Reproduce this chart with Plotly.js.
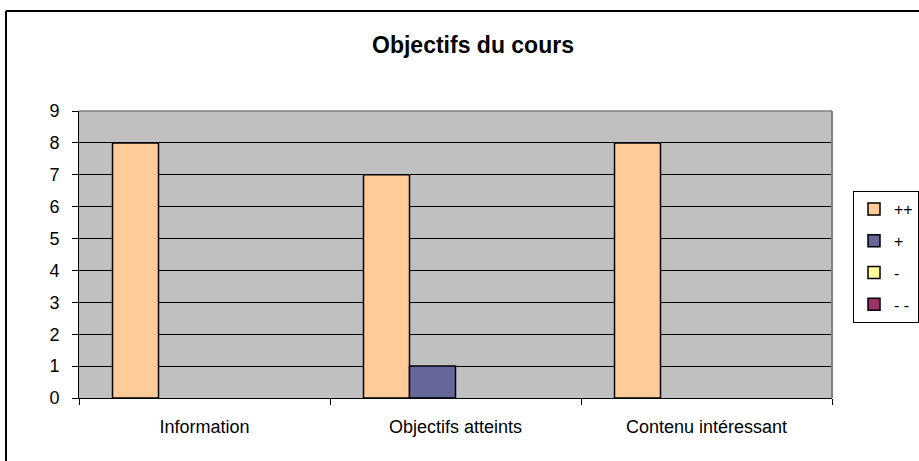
<!DOCTYPE html>
<html>
<head>
<meta charset="utf-8">
<script src="https://cdn.plot.ly/plotly-3.0.1.min.js"></script>
<style>html,body{margin:0;padding:0;background:#fff;}#chart{width:919px;height:461px;}</style>
</head>
<body>
<div id="chart"></div>
<script>
const categories = ["Information", "Objectifs atteints", "Contenu intéressant"];
const seriesNames = ["++", "+", "-", "- -"];
const valuesPlusPlus = [8, 7, 8];
const valuesPlus = [0, 1, 0];
const valuesMinus = [0, 0, 0];
const valuesMinusMinus = [0, 0, 0];
const yTicks = [0, 1, 2, 3, 4, 5, 6, 7, 8, 9];
const colors = ["#FFCC99", "#666699", "#FFFF99", "#993366"];

const allValues = [valuesPlusPlus, valuesPlus, valuesMinus, valuesMinusMinus];
const traces = allValues.map((vals, i) => ({
  type: "bar",
  name: seriesNames[i],
  x: categories,
  y: vals.map(v => (v === 0 ? null : v)),
  legendgroup: "g" + i,
  marker: {color: colors[i], line: {color: "#000000", width: 1.5}},
  hoverinfo: "x+y+name"
}));

const L = 79, R = 832, T = 111, B = 398, W = 919, H = 461;
const pw = R - L, ph = B - T;
const px = v => (v - L) / pw;
const py = v => (B - v) / ph;

const layout = {
  width: W, height: H,
  margin: {l: L, r: W - R, t: T, b: H - B, pad: 0, autoexpand: false},
  paper_bgcolor: "#ffffff",
  plot_bgcolor: "#C0C0C0",
  font: {family: "Liberation Sans, Arial, sans-serif", color: "#000000", size: 16},
  title: {
    text: "<b>Objectifs du cours</b>",
    font: {size: 23, family: "Liberation Sans, Arial, sans-serif", color: "#000"},
    x: 473 / W, xref: "container", xanchor: "center",
    y: 1 - 45 / H, yref: "container", yanchor: "middle"
  },
  barmode: "group",
  bargap: 0.267,
  bargroupgap: 0,
  xaxis: {
    type: "category",
    showgrid: false,
    showline: true, linecolor: "#000", linewidth: 1,
    ticks: "outside", ticklen: 6, tickcolor: "#000", tickwidth: 1,
    tickson: "boundaries",
    ticklabelstandoff: 12,
    tickfont: {size: 18},
    zeroline: false,
    fixedrange: true
  },
  yaxis: {
    range: [0, 9],
    tickvals: yTicks,
    ticktext: yTicks.map(String),
    showgrid: true, gridcolor: "#000", gridwidth: 1,
    showline: true, linecolor: "#000", linewidth: 1,
    ticks: "outside", ticklen: 6, tickcolor: "#000", tickwidth: 1,
    ticklabelstandoff: 9,
    tickfont: {size: 18},
    zeroline: false,
    fixedrange: true
  },
  showlegend: true,
  legend: {
    x: px(853), xanchor: "left",
    y: py(191), yanchor: "top",
    bgcolor: "#ffffff",
    bordercolor: "#000000", borderwidth: 1,
    font: {size: 16},
    tracegroupgap: 8,
    itemwidth: 30,
    traceorder: "grouped"
  },
  shapes: [
    {type: "line", xref: "paper", yref: "paper", x0: 0, x1: 1, y0: 1, y1: 1, line: {color: "#808080", width: 1.5}},
    {type: "line", xref: "paper", yref: "paper", x0: 1, x1: 1, y0: 0, y1: 1, line: {color: "#808080", width: 2}},
    {type: "line", xref: "paper", yref: "paper", x0: px(6), x1: px(6), y0: py(11), y1: py(480), line: {color: "#000", width: 2}},
    {type: "line", xref: "paper", yref: "paper", x0: px(6), x1: px(960), y0: py(11), y1: py(11), line: {color: "#000", width: 2}}
  ]
};

Plotly.newPlot("chart", traces, layout, {displayModeBar: false, staticPlot: true});
</script>
</body>
</html>
